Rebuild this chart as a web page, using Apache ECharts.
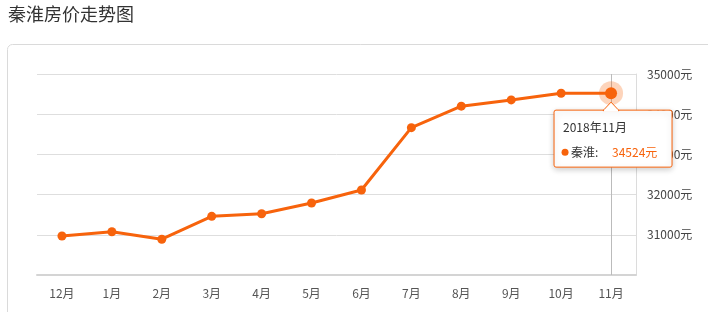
<!DOCTYPE html>
<html><head><meta charset="utf-8">
<script src="https://cdn.jsdelivr.net/npm/echarts@6/dist/echarts.min.js"></script>
<style>html,body{margin:0;padding:0;background:#fff;}#c{width:708px;height:312px;}</style>
</head><body><div id="c"></div>
<script>
const title = '秦淮房价走势图';
const seriesName = '秦淮';
const categories = ['12月','1月','2月','3月','4月','5月','6月','7月','8月','9月','10月','11月'];
const values = [30970, 31075, 30890, 31460, 31525, 31790, 32115, 33665, 34200, 34355, 34520, 34524];
const tipTitle = '2018年11月';
const yMin = 30000, yMax = 35000, yStep = 1000;
const highlightIndex = 11;

const FONT = '"Noto Sans CJK SC", "Noto Sans", sans-serif';
const ORANGE = '#f7630c';
const chart = echarts.init(document.getElementById('c'), null, {renderer: 'canvas'});
chart.setOption({
  animation: false,
  textStyle: {fontFamily: FONT},
  grid: {left: 37, right: 72, top: 74, bottom: 37},
  xAxis: {
    type: 'category', data: categories, boundaryGap: true,
    axisLine: {lineStyle: {color: '#d4d4d4', width: 2}},
    axisTick: {alignWithLabel: true, length: 4, lineStyle: {color: '#d4d4d4'}},
    axisLabel: {color: '#555', fontSize: 12, margin: 12, fontFamily: FONT}
  },
  yAxis: {
    type: 'value', position: 'right', min: yMin, max: yMax, interval: yStep,
    axisLine: {show: true, lineStyle: {color: '#dcdcdc'}},
    axisTick: {show: false},
    axisLabel: {color: '#444', fontSize: 12, margin: 11, formatter: v => String(v) + '元', showMinLabel: false, fontFamily: FONT},
    splitLine: {lineStyle: {color: '#dedede'}}
  },
  series: [{
    name: seriesName, type: 'line', data: values.map((v, i) => i === highlightIndex ? {value: v, symbolSize: 12} : v),
    symbol: 'circle', symbolSize: 9,
    lineStyle: {color: ORANGE, width: 3},
    itemStyle: {color: ORANGE},
    markPoint: {
      symbol: 'circle', symbolSize: 24, label: {show: false}, silent: true,
      itemStyle: {color: 'rgba(247,99,12,0.28)'},
      data: [{coord: [categories[highlightIndex], values[highlightIndex]]}]
    },
    z: 3
  }]
});

const p = chart.convertToPixel({xAxisIndex: 0, yAxisIndex: 0}, [highlightIndex, values[highlightIndex]]);
const yTopPx = chart.convertToPixel({yAxisIndex: 0}, yMax);
const yBotPx = chart.convertToPixel({yAxisIndex: 0}, yMin);
const bw = 118, bh = 57;
const bx = p[0] - 57, by = p[1] + 17;
const lx = Math.round(p[0]) + 0.5;
chart.setOption({
  graphic: [
    {type: 'text', left: 8, top: 5, style: {text: title, fontSize: 18, fill: '#333', fontFamily: FONT}},
    {type: 'rect', shape: {x: 7.5, y: 44.5, width: 760, height: 320, r: 5}, style: {fill: 'none', stroke: '#dadada', lineWidth: 1}, z: 0},
    {type: 'line', shape: {x1: lx, y1: yTopPx, x2: lx, y2: yBotPx}, style: {stroke: '#bbb', lineWidth: 1}, z: 1},
    {type: 'rect', shape: {x: bx, y: by, width: bw, height: bh, r: 2},
      style: {fill: '#fff', stroke: ORANGE, lineWidth: 1, shadowBlur: 6, shadowColor: 'rgba(0,0,0,0.2)', shadowOffsetY: 2}, z: 10},
    {type: 'polygon', shape: {points: [[p[0] - 8, by + 0.5], [p[0], by - 8], [p[0] + 8, by + 0.5]]},
      style: {fill: '#fff', stroke: ORANGE, lineWidth: 1}, z: 11},
    {type: 'rect', shape: {x: p[0] - 7, y: by - 0.5, width: 14, height: 2}, style: {fill: '#fff'}, z: 12},
    {type: 'text', x: bx + 9, y: by + 17, style: {text: tipTitle, fontSize: 12, fill: '#333', fontFamily: FONT, verticalAlign: 'middle'}, z: 13},
    {type: 'circle', shape: {cx: bx + 11, cy: by + 42, r: 3.5}, style: {fill: ORANGE}, z: 13},
    {type: 'text', x: bx + 17, y: by + 42, style: {text: seriesName + ':', fontSize: 12, fill: '#333', fontFamily: FONT, verticalAlign: 'middle'}, z: 13},
    {type: 'text', x: bx + 58, y: by + 42, style: {text: values[highlightIndex] + '元', fontSize: 12, fill: ORANGE, fontFamily: FONT, verticalAlign: 'middle'}, z: 13}
  ]
});
</script></body></html>
